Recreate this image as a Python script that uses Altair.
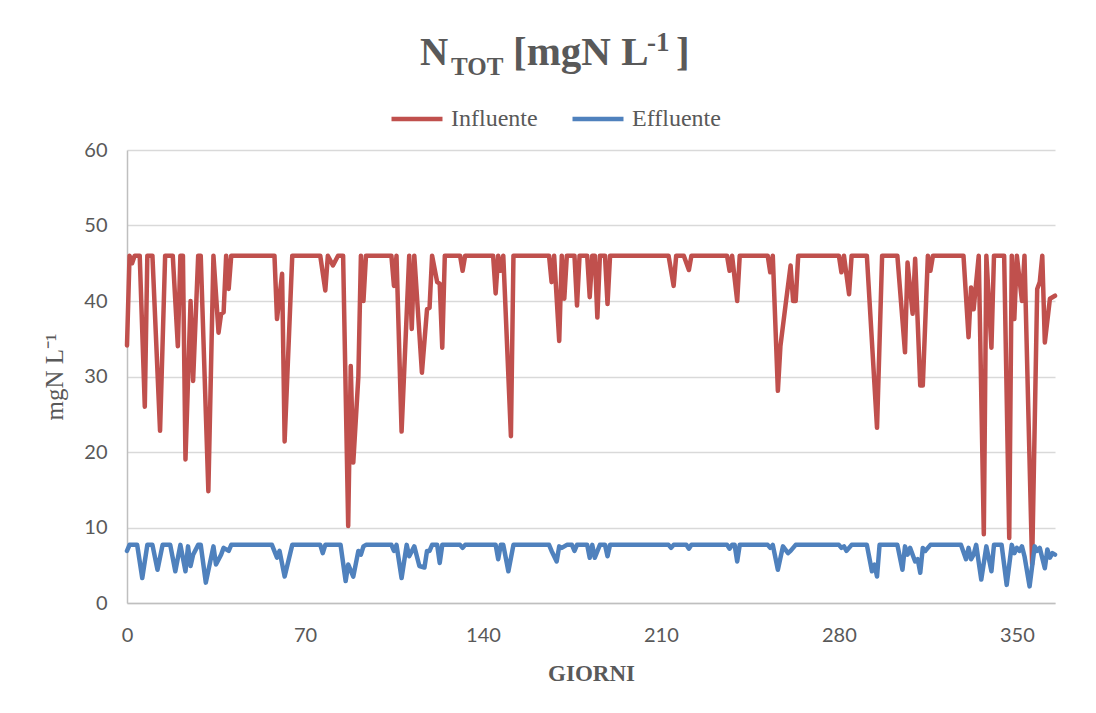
import altair as alt
import pandas as pd

# Influente (day, value) vertices
inf_days = [0, 1, 2, 3, 5, 7, 8, 10, 13, 15, 18, 20, 21, 22, 23, 25, 26, 28, 29, 32, 34, 36, 37, 38, 39, 40, 41,
            58, 59, 61, 62, 65, 76, 78, 79, 81, 83, 85, 87, 88, 89, 91, 92, 93, 94,
            104, 105, 106, 108, 111, 112, 113, 116, 118, 119, 120, 122, 123, 124, 125, 131, 132, 133,
            144, 145, 146, 147, 148, 151, 152,
            166, 167, 168, 170, 171, 172, 173, 176, 177, 178, 181, 182, 183, 184, 185, 186, 188, 189, 190,
            213, 215, 216, 219, 221, 222, 236, 237, 238, 240, 241,
            252, 253, 254, 256, 257, 259, 261, 262, 263, 264,
            280, 281, 282, 284, 285, 291, 295, 297, 303, 306, 307, 309, 310, 312, 313, 315, 316, 317,
            329, 331, 332, 333, 335, 337, 338, 340, 341, 345, 347, 348, 349, 350, 352, 353, 356, 358, 359,
            360, 361, 363, 364, 365]
inf_vals = [34.1, 46, 45, 46, 46, 26, 46, 46, 22.8, 46, 46, 34, 46, 46, 19, 40, 29.4, 46, 46, 14.8, 46, 35.8, 38.3, 38.5, 46, 41.6, 46,
            46, 37.6, 43.6, 21.4, 46, 46, 41.4, 46, 44.7, 46, 46, 10.2, 31.4, 18.6, 30, 46, 40, 46,
            46, 42, 46, 22.7, 46, 36.3, 46, 30.5, 38.9, 39.1, 46, 42.5, 42.3, 33.8, 46, 46, 44, 46,
            46, 41, 46, 44, 46, 22.1, 46,
            46, 42.5, 46, 34.7, 46, 40.3, 46, 46, 39.4, 46, 46, 40.5, 46, 46, 37.8, 46, 46, 39.6, 46,
            46, 42, 46, 46, 44.1, 46, 46, 44, 46, 40, 46,
            46, 43.8, 46, 28.1, 34, 39.4, 44.7, 40, 40, 46,
            46, 43.8, 46, 40.9, 46, 46, 23.2, 46, 46, 33.2, 45.1, 38.3, 45.6, 28.8, 28.8, 46, 44, 46,
            46, 35.2, 41.8, 38.9, 46, 9.1, 46, 33.8, 46, 46, 8.6, 46, 37.6, 46, 40, 46, 5.1, 41.6, 42.5,
            46, 34.5, 40.3, 40.5, 40.7]

# Effluente (day, value) vertices
eff_days = [0, 1, 4, 6, 8, 10, 12, 14, 17, 19, 21, 23, 24, 25, 26, 28, 29, 31, 34, 35, 37, 38, 40, 41,
            57, 59, 60, 62, 65, 76, 77, 78, 84, 86, 87, 89, 91, 92, 93, 94,
            104, 105, 106, 108, 110, 111, 113, 115, 117, 118, 119, 120, 122, 123, 124, 131, 132, 133,
            145, 146, 147, 148, 150, 152,
            166, 167, 169, 170, 171, 173, 175, 176, 177, 181, 182, 183, 184, 186, 188, 189, 190,
            213, 214, 215, 220, 221, 222, 236, 237, 238, 239, 240, 241,
            252, 253, 254, 256, 258, 260, 261, 263,
            280, 281, 282, 283, 285, 291, 293, 294, 295, 296, 303, 305, 306, 307, 308, 310, 311, 312, 313, 314, 316,
            328, 330, 331, 332, 333, 334, 336, 338, 340, 341, 344, 346, 348, 349, 350, 351, 352, 353, 355,
            357, 358, 359, 361, 362, 363, 364, 365]
eff_vals = [6.9, 7.7, 7.7, 3.3, 7.7, 7.7, 4.4, 7.7, 7.7, 4.2, 7.7, 4.2, 7.5, 4.9, 6.4, 7.7, 7.7, 2.7, 7.5, 5.1, 6.4, 7.3, 6.9, 7.7,
            7.7, 6.0, 6.9, 3.5, 7.7, 7.7, 6.6, 7.7, 7.7, 2.9, 5.1, 3.5, 6.9, 6.4, 7.5, 7.7,
            7.7, 6.9, 7.7, 3.3, 7.7, 6.2, 7.5, 4.9, 4.7, 6.9, 6.9, 7.7, 7.7, 5.3, 7.7, 7.7, 7.3, 7.7,
            7.7, 5.8, 7.7, 7.7, 4.2, 7.7,
            7.7, 6.9, 5.5, 7.5, 7.3, 7.7, 7.7, 6.9, 7.7, 7.7, 6.0, 7.7, 6.0, 7.7, 7.7, 6.2, 7.7,
            7.7, 7.3, 7.7, 7.7, 7.2, 7.7, 7.7, 7.2, 7.7, 7.7, 5.5, 7.7,
            7.7, 7.3, 7.7, 4.4, 7.5, 6.6, 6.9, 7.7,
            7.7, 7.3, 7.5, 6.9, 7.7, 7.7, 4.2, 5.1, 3.5, 7.7, 7.7, 4.4, 7.5, 6.4, 7.3, 5.5, 5.8, 4.0, 7.3, 6.9, 7.7,
            7.7, 5.8, 7.3, 5.8, 6.4, 7.7, 3.1, 7.5, 4.2, 7.7, 7.7, 2.4, 7.7, 6.6, 7.3, 6.9, 7.5, 6.2, 2.2,
            7.5, 6.9, 7.3, 4.6, 7.1, 6.0, 6.6, 6.4]

series_names = ["Influente", "Effluente"]
series_colors = ["#C0504D", "#4F81BD"]
x_ticks = [0, 70, 140, 210, 280, 350]
y_ticks = [0, 10, 20, 30, 40, 50, 60]

df = pd.concat([
    pd.DataFrame({"giorno": inf_days, "valore": inf_vals, "serie": series_names[0], "ord": 0}),
    pd.DataFrame({"giorno": eff_days, "valore": eff_vals, "serie": series_names[1], "ord": 1}),
], ignore_index=True)

GRAY = "#595959"
SERIF = "Liberation Serif"
SANS = "Lato"

lines = alt.Chart(df).mark_line(strokeWidth=4.5, strokeJoin="round", strokeCap="round").encode(
    x=alt.X("giorno:Q",
            scale=alt.Scale(domain=[0, 365], nice=False, zero=False),
            axis=alt.Axis(values=x_ticks, grid=False, ticks=False, title="GIORNI",
                          labelPadding=22, labelFlush=False, titlePadding=17,
                          titleFontWeight="bold", titleFontSize=23, titleFont=SERIF)),
    y=alt.Y("valore:Q",
            scale=alt.Scale(domain=[0, 60], nice=False),
            axis=alt.Axis(values=y_ticks, grid=True, ticks=False, title="mgN L\u207b\u00b9",
                          labelPadding=20, titlePadding=16, titleFontWeight="normal",
                          titleFontSize=25, titleFont=SERIF)),
    color=alt.Color("serie:N",
                    scale=alt.Scale(domain=series_names, range=series_colors),
                    legend=alt.Legend(orient="none", legendX=262, legendY=-59, direction="horizontal",
                                      title=None, symbolType="stroke", symbolSize=2600,
                                      symbolStrokeWidth=4.5, labelFont=SERIF, labelFontSize=24,
                                      labelColor=GRAY, labelOffset=6, columnPadding=25)),
    order="ord:Q",
    detail="serie:N",
)

one = pd.DataFrame({"k": [0]})


def txt(s, x, y, size):
    return alt.Chart(one).mark_text(text=s, align="left", baseline="alphabetic", font=SERIF,
                                    fontWeight="bold", fontSize=size, color=GRAY).encode(
        x=alt.value(x), y=alt.value(y))


title = (txt("N", 293, -85, 39) + txt("TOT", 324, -75, 25) + txt("[mgN L", 386, -85, 41)
         + txt("-1", 520, -99, 27) + txt("]", 549, -85, 41))

chart = alt.layer(lines, title).properties(
    width=928, height=453,
    padding={"left": 119, "top": 142, "right": 25, "bottom": 100},
    autosize=alt.AutoSizeParams(type="none"),
).configure_view(strokeWidth=0).configure_axis(
    domainColor="#bfbfbf", domainWidth=1.5, gridColor="#d9d9d9", gridWidth=1.3,
    labelColor=GRAY, labelFont=SANS, labelFontSize=20, titleColor=GRAY,
)

chart.save("out.html", embed_options={"renderer": "svg", "actions": False})
